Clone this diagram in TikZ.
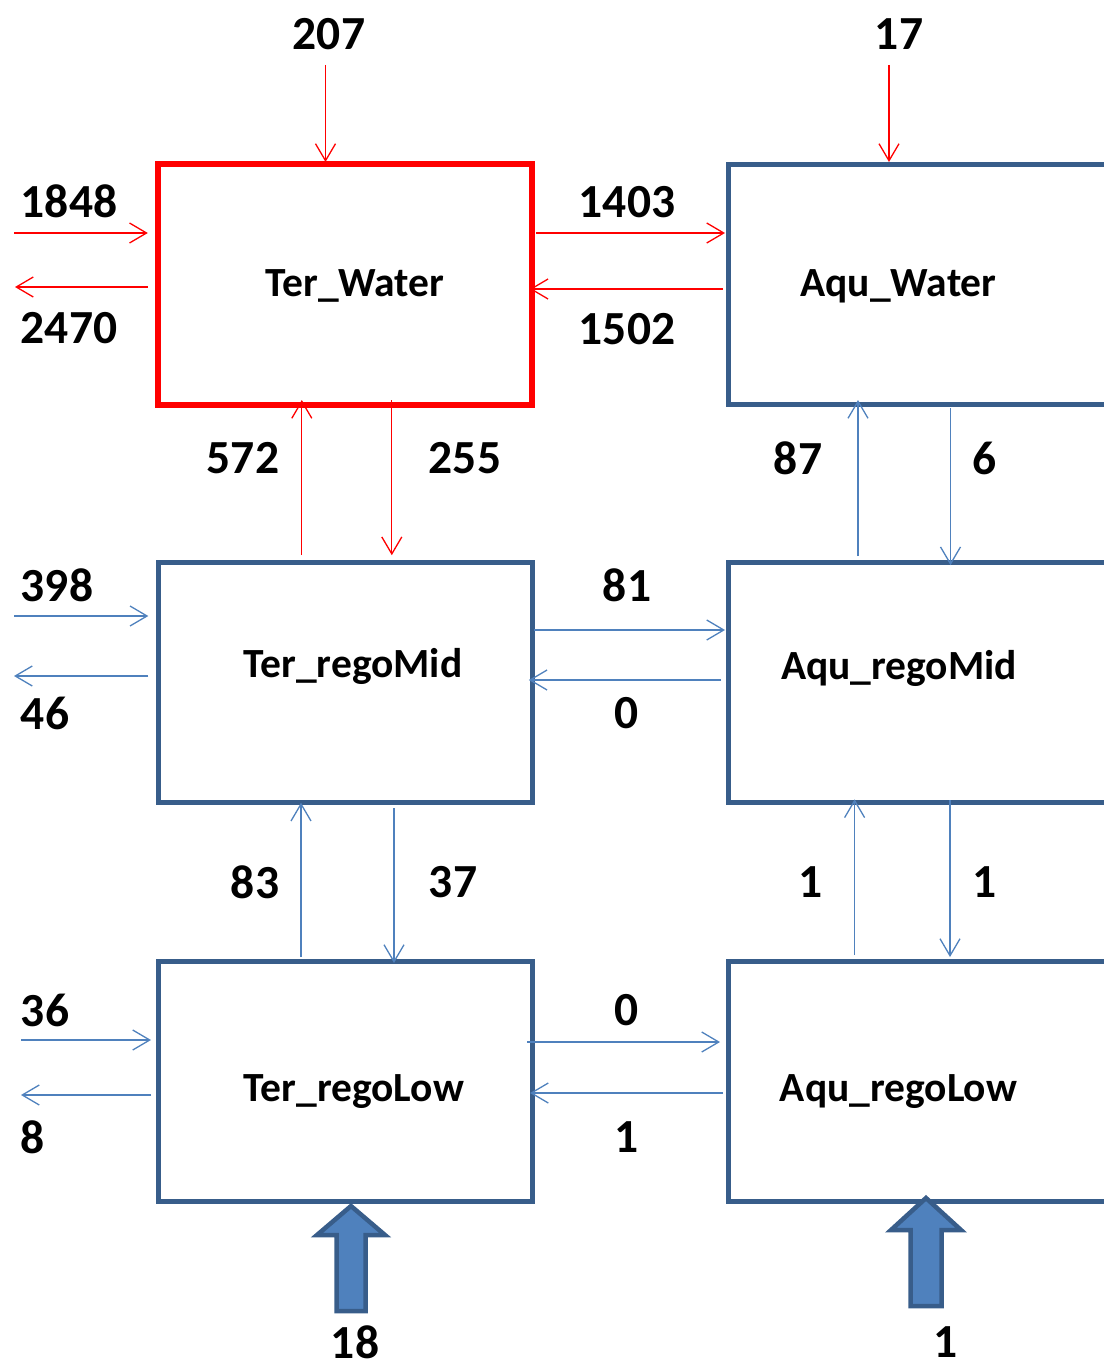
\documentclass[tikz,border=0pt]{standalone}
\usepackage{fontspec}
\setmainfont{Carlito}
\usepackage{tikz}
\usetikzlibrary{arrows.meta}
\definecolor{flowred}{RGB}{255,0,0}
\definecolor{flowblue}{RGB}{79,129,189}
\definecolor{pooledge}{RGB}{56,93,138}
\tikzstyle{redarrow} = [line width=1.3pt,-{Straight Barb[length=17pt,width=20pt]},color=flowred]
\tikzstyle{bluearrow} = [line width=1.3pt,-{Straight Barb[length=17pt,width=20pt]},color=flowblue]
\tikzstyle{waterpool} = [rectangle, minimum width=374pt, minimum height=240pt, draw=flowred, line width=6pt, inner sep=0pt, outer sep=0pt]
\tikzstyle{pool} = [rectangle, minimum width=374pt, minimum height=240pt, draw=pooledge, line width=5pt, inner sep=0pt, outer sep=0pt]
\tikzstyle{aqupool} = [pool, minimum width=420pt]
\tikzstyle{poolname} = [font=\fontsize{41.5}{50}\selectfont\bfseries, inner sep=0pt, anchor=base]
\tikzstyle{flux} = [font=\fontsize{47.5}{57}\selectfont\bfseries, inner sep=0pt]
\tikzstyle{inflow} = [draw=pooledge, fill=flowblue, line width=4.5pt, line join=miter]

\begin{document}
\begin{tikzpicture}[x=1pt, y=-1pt]
    \useasboundingbox (0,0) rectangle (1103,1364);

    % Pools
    \node[waterpool] (terwater) at (345.3,284.5) {};
    \node[aqupool] (aquwater) at (938,284.5) {};
    \node[pool] (termid) at (345.3,682.7) {};
    \node[aqupool] (aqumid) at (938,682.7) {};
    \node[pool] (terlow) at (345.3,1081.5) {};
    \node[aqupool] (aqulow) at (938,1081.5) {};

    % Pool names
    \node[poolname] (terwatername) at (355,296) {Ter\_Water};
    \node[poolname] (aquwatername) at (898.5,296) {Aqu\_Water};
    \node[poolname] (termidname) at (353,677) {Ter\_regoMid};
    \node[poolname] (aqumidname) at (899,679) {Aqu\_regoMid};
    \node[poolname] (terlowname) at (354,1101) {Ter\_regoLow};
    \node[poolname] (aqulowname) at (898.5,1101) {Aqu\_regoLow};

    % Free ends
    \coordinate (in207) at (325.5,65);
    \coordinate (in17) at (889,65);
    \coordinate (in1848) at (14,233);
    \coordinate (out2470) at (15,287);
    \coordinate (in398) at (14,616);
    \coordinate (out46) at (14,676);
    \coordinate (in36) at (21,1040);
    \coordinate (out8) at (21,1095);
    \coordinate (terin) at (351,1206);
    \coordinate (aquin) at (926,1198);

    % Arrows, water
    \draw[redarrow, shorten >=2.5pt] (in207) -- (in207 |- terwater.north);
    \draw[redarrow, shorten >=2.5pt] (in17) -- (in17 |- aquwater.north);
    \draw[redarrow, shorten >=10.5pt] (in1848) -- (in1848 -| terwater.west);
    \draw[redarrow, shorten <=10.5pt] (out2470 -| terwater.west) -- (out2470);
    \draw[redarrow, shorten <=3.5pt, shorten >=3pt] ([yshift=51.5pt]terwater.east) -- ([yshift=51.5pt]aquwater.west);
    \draw[redarrow, shorten <=5pt, shorten >=-2.5pt] ([yshift=-4.5pt]aquwater.west) -- ([yshift=-4.5pt]terwater.east);
    \draw[redarrow, shorten <=7.5pt, shorten >=-4.5pt] ([xshift=-43.5pt]termid.north) -- ([xshift=-43.5pt]terwater.south);
    \draw[redarrow, shorten <=-4.5pt, shorten >=7.5pt] ([xshift=46.5pt]terwater.south) -- ([xshift=46.5pt]termid.north);
    \draw[bluearrow, shorten <=6.5pt, shorten >=-4.5pt] ([xshift=-80pt]aqumid.north) -- ([xshift=-80pt]aquwater.south);
    \draw[bluearrow, shorten <=3.5pt, shorten >=-2.5pt] ([xshift=12.5pt]aquwater.south) -- ([xshift=12.5pt]aqumid.north);

    % Arrows, regolith
    \draw[bluearrow, shorten >=10pt] (in398) -- (in398 -| termid.west);
    \draw[bluearrow, shorten <=10pt] (out46 -| termid.west) -- (out46);
    \draw[bluearrow, shorten <=1.5pt, shorten >=3pt] ([yshift=52.7pt]termid.east) -- ([yshift=52.7pt]aqumid.west);
    \draw[bluearrow, shorten <=7pt, shorten >=-3.5pt] ([yshift=2.7pt]aqumid.west) -- ([yshift=2.7pt]termid.east);
    \draw[bluearrow, shorten <=4.5pt] ([xshift=-44.3pt]terlow.north) -- ([xshift=-44.3pt]termid.south);
    \draw[bluearrow, shorten <=5.3pt, shorten >=-1.5pt] ([xshift=48.7pt]termid.south) -- ([xshift=48.7pt]terlow.north);
    \draw[bluearrow, shorten <=6.5pt, shorten >=-3.4pt] ([xshift=-83.4pt]aqulow.north) -- ([xshift=-83.4pt]aqumid.south);
    \draw[bluearrow, shorten <=-2.7pt, shorten >=4.5pt] ([xshift=12pt]aqumid.south) -- ([xshift=12pt]aqulow.north);
    \draw[bluearrow, shorten >=7.3pt] (in36) -- (in36 -| terlow.west);
    \draw[bluearrow, shorten <=7.3pt] (out8 -| terlow.west) -- (out8);
    \draw[bluearrow, shorten <=-5.3pt, shorten >=8pt] ([yshift=39.5pt]terlow.east) -- ([yshift=39.5pt]aqulow.west);
    \draw[bluearrow, shorten <=5pt, shorten >=-2.3pt] ([yshift=-11.5pt]aqulow.west) -- ([yshift=-11.5pt]terlow.east);

    % Inflow from below
    \draw[inflow, shift={(terin)}] (0,0) -- (34,29) -- (14.5,29) -- (14.5,105) -- (-14.5,105) -- (-14.5,29) -- (-34,29) -- cycle;
    \draw[inflow, shift={(aquin)}] (0,0) -- (35,32) -- (15.5,32) -- (15.5,108) -- (-15.5,108) -- (-15.5,32) -- (-35,32) -- cycle;

    % Flux labels
    \node[flux] (lab207) at (329,34) {207};
    \node[flux] (lab17) at (899,34) {17};
    \node[flux] (lab1848) at (69,201) {1848};
    \node[flux] (lab2470) at (69,328.5) {2470};
    \node[flux] (lab1403) at (627,202) {1403};
    \node[flux] (lab1502) at (627,329) {1502};
    \node[flux] (lab572) at (243,458) {572};
    \node[flux] (lab255) at (465,458) {255};
    \node[flux] (lab87) at (798,458) {87};
    \node[flux] (lab6) at (985,458) {6};
    \node[flux] (lab398) at (57,585) {398};
    \node[flux] (lab46) at (45,713) {46};
    \node[flux] (lab81) at (627,585) {81};
    \node[flux] (labmidback) at (627,713) {0};
    \node[flux] (lab83) at (255,882) {83};
    \node[flux] (lab37) at (453,882) {37};
    \node[flux] (labaquup) at (811,882) {1};
    \node[flux] (labaqudown) at (985,882) {1};
    \node[flux] (lab36) at (45,1010) {36};
    \node[flux] (lab8) at (33,1137) {8};
    \node[flux] (lablowto) at (627,1010) {0};
    \node[flux] (lablowback) at (627,1137) {1};
    \node[flux] (lab18) at (355,1342) {18};
    \node[flux] (labaquin) at (946,1342) {1};
\end{tikzpicture}
\end{document}
